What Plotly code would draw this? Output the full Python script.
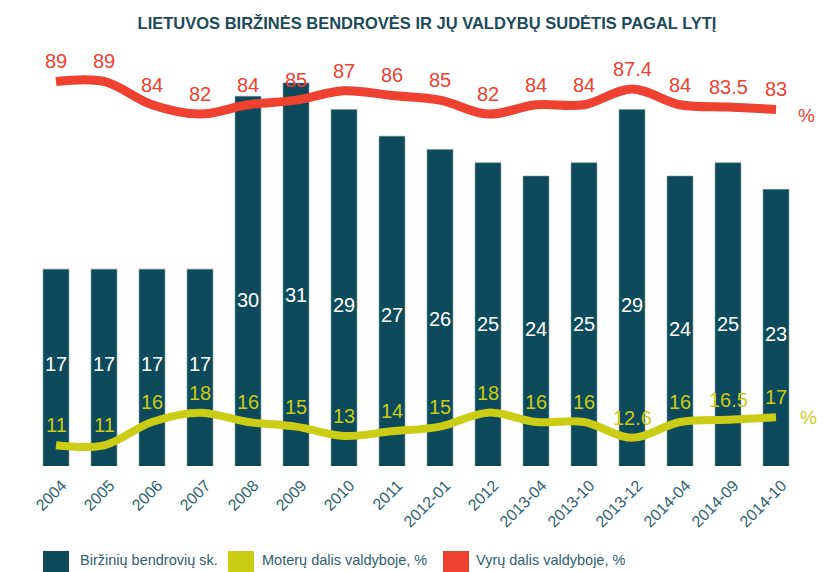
import plotly.graph_objects as go

# ---------------- data ----------------
categories = ["2004", "2005", "2006", "2007", "2008", "2009", "2010", "2011",
              "2012-01", "2012", "2013-04", "2013-10", "2013-12", "2014-04",
              "2014-09", "2014-10"]
companies = [17, 17, 17, 17, 30, 31, 29, 27, 26, 25, 24, 25, 29, 24, 25, 23]
women_pct = [11, 11, 16, 18, 16, 15, 13, 14, 15, 18, 16, 16, 12.6, 16, 16.5, 17]
men_pct = [89, 89, 84, 82, 84, 85, 87, 86, 85, 82, 84, 84, 87.4, 84, 83.5, 83]

title_text = "LIETUVOS BIRŽINĖS BENDROVĖS IR JŲ VALDYBŲ SUDĖTIS PAGAL LYTĮ"
legend_names = ["Biržinių bendrovių sk.", "Moterų dalis valdyboje, %", "Vyrų dalis valdyboje, %"]

# ---------------- style ----------------
W, H = 824, 572
ML, MR, MT, MB = 32, 24, 40, 106
PW, PH = W - ML - MR, H - MT - MB

FONT = "Liberation Sans, Arial, sans-serif"
C_BAR = "#0c4a5c"
C_RED = "#ef4130"
C_YEL = "#cbcc14"
C_TXT = "#2d5f70"
C_TITLE = "#1b4a5a"


def px_x(px):
    return (px - ML) / PW


def px_y(py):
    return (H - MB - py) / PH


def fnt(size, color, weight="normal"):
    return dict(family=FONT, size=size, color=color, weight=weight)


fig = go.Figure()

fig.add_trace(go.Bar(
    x=categories, y=companies, name=legend_names[0],
    marker=dict(color=C_BAR, line=dict(color="#6f93a0", width=0.6)),
    yaxis="y", showlegend=False, hoverinfo="x+y",
))
fig.add_trace(go.Scatter(
    x=categories, y=companies, text=[f"{v:g}" for v in companies],
    mode="text", textfont=fnt(20, "white"),
    yaxis="y3", showlegend=False, hoverinfo="skip",
))
fig.add_trace(go.Scatter(
    x=categories, y=men_pct, name=legend_names[2], mode="lines",
    line=dict(color=C_RED, width=9, shape="spline", smoothing=1.0),
    yaxis="y2", showlegend=False,
))
fig.add_trace(go.Scatter(
    x=categories, y=women_pct, name=legend_names[1], mode="lines",
    line=dict(color=C_YEL, width=8, shape="spline", smoothing=1.0),
    yaxis="y2", showlegend=False,
))

annotations = []
for i, v in enumerate(men_pct):
    annotations.append(dict(x=i, y=v, xref="x", yref="y2", text=f"{v:g}",
                            showarrow=False, yshift=20, yanchor="middle",
                            font=fnt(20, C_RED)))
for i, v in enumerate(women_pct):
    annotations.append(dict(x=i, y=v, xref="x", yref="y2", text=f"{v:g}",
                            showarrow=False, yshift=20, yanchor="middle",
                            font=fnt(20, C_YEL)))
# % signs at the line ends
annotations.append(dict(x=px_x(796), y=men_pct[-1], xref="paper", yref="y2", text="%",
                        showarrow=False, xanchor="left", yshift=-6,
                        font=fnt(19, C_RED)))
annotations.append(dict(x=px_x(798), y=women_pct[-1], xref="paper", yref="y2", text="%",
                        showarrow=False, xanchor="left",
                        font=fnt(19, C_YEL)))

# custom legend
shapes = []
leg = [(43, 78, C_BAR, legend_names[0]), (228, 260, C_YEL, legend_names[1]),
       (443, 474, C_RED, legend_names[2])]
for x0, tx, col, name in leg:
    shapes.append(dict(type="rect", xref="paper", yref="paper",
                       x0=px_x(x0), x1=px_x(x0 + 26), y0=px_y(551), y1=px_y(580),
                       fillcolor=col, line=dict(width=0), layer="above"))
    annotations.append(dict(x=px_x(tx), y=px_y(560), xref="paper", yref="paper",
                            text=name, showarrow=False, xanchor="left", yanchor="middle",
                            font=fnt(14.5, C_TXT)))

fig.update_layout(
    width=W, height=H,
    margin=dict(l=ML, r=MR, t=MT, b=MB),
    paper_bgcolor="white", plot_bgcolor="white",
    bargap=0.46,
    title=dict(text=title_text, x=427 / W, xanchor="center", y=1 - 23 / H, yanchor="middle",
               font=fnt(16.5, C_TITLE, "bold")),
    xaxis=dict(type="category", range=[-0.5, len(categories) - 0.5], showgrid=False,
               showline=False, zeroline=False, ticks="", tickangle=-45,
               ticklabelstandoff=6, ticklabelshift=6,
               tickfont=fnt(16, C_TXT)),
    yaxis=dict(range=[2.2, 2.2 + PH / 13.3], visible=False, showgrid=False),
    yaxis2=dict(range=[6.563, 6.563 + PH / 4.665], visible=False, showgrid=False,
                overlaying="y"),
    yaxis3=dict(range=[-3.202, -3.202 + PH / 4.95], visible=False, showgrid=False,
                overlaying="y"),
    annotations=annotations,
    shapes=shapes,
    showlegend=False,
)

fig.write_html("out.html")
